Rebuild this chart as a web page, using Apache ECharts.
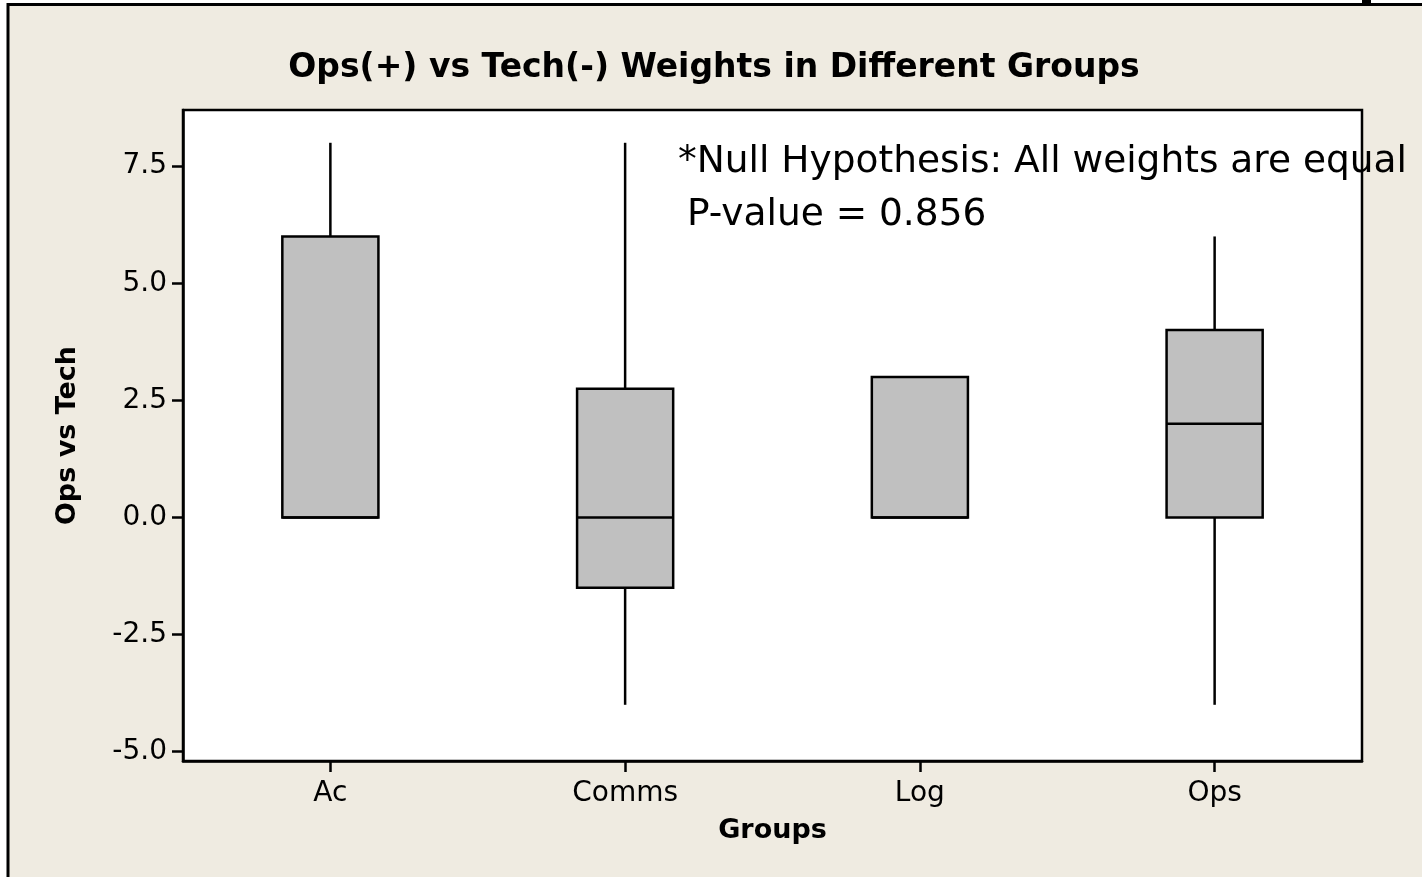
<!DOCTYPE html>
<html>
<head>
<meta charset="utf-8">
<title>Ops vs Tech Weights</title>
<script src="https://cdn.jsdelivr.net/npm/echarts@6/dist/echarts.min.js"></script>
<style>
  html, body { margin: 0; padding: 0; background: #ffffff; }
  #chart { width: 1422px; height: 877px; }
</style>
</head>
<body>
<div id="chart"></div>
<script>
// Groups and their box-plot statistics
const categories = ['Ac', 'Comms', 'Log', 'Ops'];
const whiskerLow = [0, -4, 0, -4];
const quartile1 = [0, -1.5, 0, 0];
const medians = [0, 0, 0, 2];
const quartile3 = [6, 2.75, 3, 4];
const whiskerHigh = [8, 8, 3, 6];

// Y axis tick positions
const yTicks = [-5, -2.5, 0, 2.5, 5, 7.5];

const FONT = 'DejaVu Sans';
const BG = '#EFEBE1';
const LW = 2.5;

const boxData = categories.map((c, i) => [i, whiskerLow[i], quartile1[i], medians[i], quartile3[i], whiskerHigh[i]]);

function renderBox(params, api) {
  const i = api.value(0);
  const low = api.value(1), q1 = api.value(2), med = api.value(3), q3 = api.value(4), high = api.value(5);
  const pLow = api.coord([i, low]);
  const pQ1 = api.coord([i, q1]);
  const pMed = api.coord([i, med]);
  const pQ3 = api.coord([i, q3]);
  const pHigh = api.coord([i, high]);
  const halfW = api.size([1, 0])[0] * 0.163;
  const cx = pQ1[0];
  const lineStyle = { stroke: '#000', lineWidth: LW };
  const children = [];
  if (high > q3) {
    children.push({ type: 'line', shape: { x1: cx, y1: pQ3[1], x2: cx, y2: pHigh[1] }, style: lineStyle });
  }
  if (low < q1) {
    children.push({ type: 'line', shape: { x1: cx, y1: pQ1[1], x2: cx, y2: pLow[1] }, style: lineStyle });
  }
  children.push({
    type: 'rect',
    shape: { x: cx - halfW, y: pQ3[1], width: halfW * 2, height: pQ1[1] - pQ3[1] },
    style: { fill: '#C0C0C0', stroke: '#000', lineWidth: LW }
  });
  children.push({ type: 'line', shape: { x1: cx - halfW, y1: pMed[1], x2: cx + halfW, y2: pMed[1] }, style: lineStyle });
  return { type: 'group', children: children };
}

const chart = echarts.init(document.getElementById('chart'), null, { renderer: 'canvas' });

chart.setOption({
  backgroundColor: '#ffffff',
  animation: false,
  textStyle: { fontFamily: FONT },
  graphic: [
    // outer frame
    { type: 'rect', z: -10, shape: { x: 8, y: 4.5, width: 1500, height: 1000 },
      style: { fill: BG, stroke: '#000', lineWidth: 3 } },
    { type: 'rect', z: -9, shape: { x: 1362, y: 0, width: 9, height: 4 }, style: { fill: '#000' } },
    // chart title
    { type: 'text', z: 10, x: 714, y: 68,
      style: { text: 'Ops(+) vs Tech(-) Weights in Different Groups', fontFamily: FONT, fontWeight: 'bold',
               fontSize: 33, fill: '#000', align: 'center', verticalAlign: 'middle' } },
    // hypothesis note
    { type: 'text', z: 10, x: 678, y: 162,
      style: { text: '*Null Hypothesis: All weights are equal', fontFamily: FONT, fontSize: 37.5,
               fill: '#000', align: 'left', verticalAlign: 'middle' } },
    { type: 'text', z: 10, x: 687, y: 215,
      style: { text: 'P-value = 0.856', fontFamily: FONT, fontSize: 37.5,
               fill: '#000', align: 'left', verticalAlign: 'middle' } }
  ],
  grid: {
    left: 183, right: 60, top: 110, bottom: 116,
    show: true, backgroundColor: '#ffffff', borderColor: '#000', borderWidth: LW
  },
  xAxis: {
    type: 'category',
    data: categories,
    boundaryGap: true,
    name: 'Groups',
    nameLocation: 'middle',
    nameGap: 56,
    nameTextStyle: { fontFamily: FONT, fontWeight: 'bold', fontSize: 27, color: '#000' },
    axisLine: { show: true, onZero: false, lineStyle: { color: '#000', width: LW } },
    axisTick: { show: true, alignWithLabel: true, length: 11, lineStyle: { color: '#000', width: LW } },
    axisLabel: { margin: 19, fontFamily: FONT, fontSize: 28, color: '#000' },
    splitLine: { show: false }
  },
  yAxis: {
    type: 'value',
    min: -5.2,
    max: 8.7,
    name: 'Ops vs Tech',
    nameLocation: 'middle',
    nameGap: 102,
    nameTextStyle: { fontFamily: FONT, fontWeight: 'bold', fontSize: 27, color: '#000' },
    axisLine: { show: true, onZero: false, lineStyle: { color: '#000', width: LW } },
    axisTick: { show: true, length: 11, customValues: yTicks, lineStyle: { color: '#000', width: LW } },
    axisLabel: { margin: 16, fontFamily: FONT, fontSize: 28, color: '#000', customValues: yTicks,
                 formatter: v => v.toFixed(1) },
    splitLine: { show: false }
  },
  series: [{
    type: 'custom',
    renderItem: renderBox,
    encode: { x: 0, y: [1, 2, 3, 4, 5] },
    data: boxData,
    clip: false
  }]
});
</script>
</body>
</html>
